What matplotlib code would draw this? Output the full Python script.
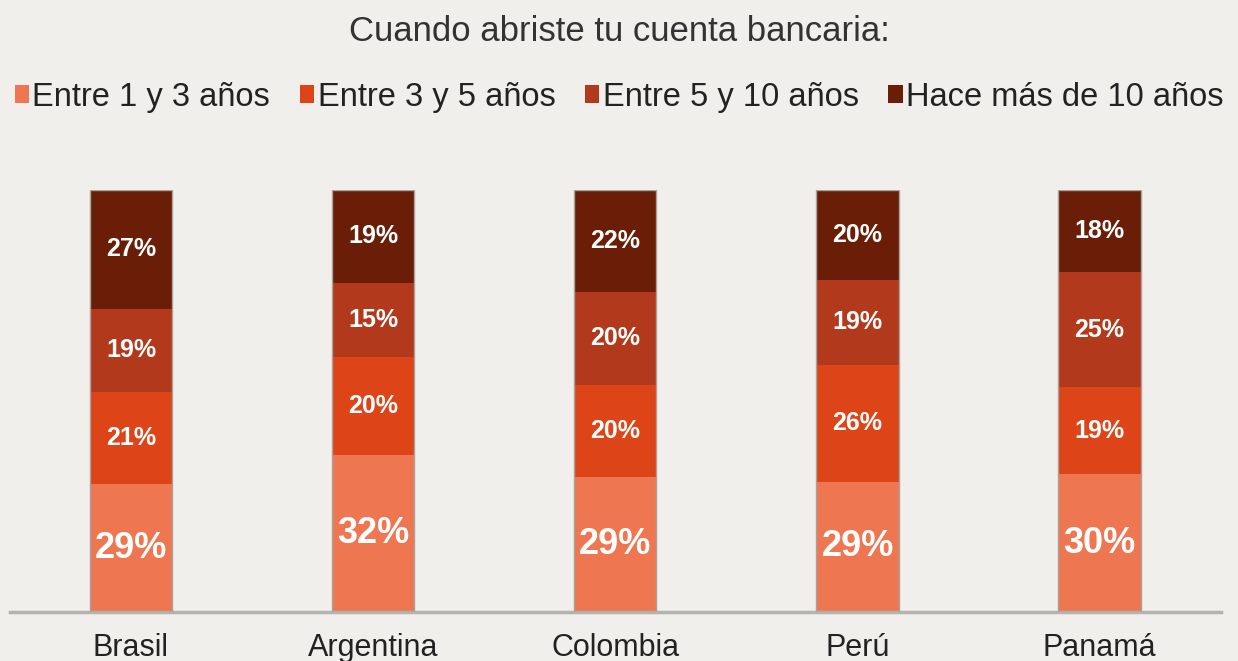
import matplotlib
matplotlib.use('Agg')
import matplotlib.pyplot as plt
import numpy as np

plt.rcParams['font.family'] = ['Liberation Sans', 'DejaVu Sans']

# data
paises = ['Brasil', 'Argentina', 'Colombia', 'Perú', 'Panamá']
series = ['Entre 1 y 3 años', 'Entre 3 y 5 años', 'Entre 5 y 10 años', 'Hace más de 10 años']
entre_1_3 = [29, 32, 29, 29, 30]
entre_3_5 = [21, 20, 20, 26, 19]
entre_5_10 = [19, 15, 20, 19, 25]
mas_10 = [27, 19, 22, 20, 18]

colores = ['#EE7650', '#DD4518', '#B2391B', '#6A1E08']
bg = '#F1EFEB'

fig = plt.figure(figsize=(12.38, 6.61), dpi=100, facecolor=bg)
ax = fig.add_axes([0.008, 0.074, 0.978, 0.639])
ax.set_facecolor(bg)

valores = np.array([entre_1_3, entre_3_5, entre_5_10, mas_10], dtype=float)
totales = valores.sum(axis=0)
norm = valores / totales * 100  # bars stacked to 100%

x = np.arange(len(paises))
ancho = 0.34
base = np.zeros(len(paises))
for i, (serie, col) in enumerate(zip(series, colores)):
    ax.bar(x, norm[i], ancho, bottom=base, color=col, label=serie,
           edgecolor='none', zorder=2)
    for j in range(len(paises)):
        grande = (i == 0)
        yc = base[j] + norm[i][j] / 2
        ax.text(x[j], yc, f'{int(valores[i][j])}%', ha='center', va='center',
                color='white', fontweight='bold',
                fontsize=26 if grande else 18, zorder=3)
    base += norm[i]

# thin outline around each bar
ax.bar(x, base, ancho, fill=False, edgecolor='#A8A29C', linewidth=1.0, zorder=4)

ax.set_xlim(-0.5, 4.5)
ax.set_ylim(0, 100)
ax.set_yticks([])
ax.set_xticks(x)
ax.set_xticklabels(paises, fontsize=22, color='#222222')
ax.tick_params(axis='x', length=0, pad=15)
for s in ['top', 'right', 'left']:
    ax.spines[s].set_visible(False)
ax.spines['bottom'].set_color('#B5B3AF')
ax.spines['bottom'].set_linewidth(2.5)

fig.text(0.5, 0.952, 'Cuando abriste tu cuenta bancaria:', ha='center', va='center',
         fontsize=25, color='#333333')

fig.legend(loc='center', bbox_to_anchor=(0.5, 0.853), ncol=4, frameon=False,
           fontsize=23.5, handlelength=0.45, handleheight=0.45, handletextpad=0.1,
           columnspacing=0.9, labelcolor='#222222')

fig.savefig('out.png', dpi=100, facecolor=bg)
